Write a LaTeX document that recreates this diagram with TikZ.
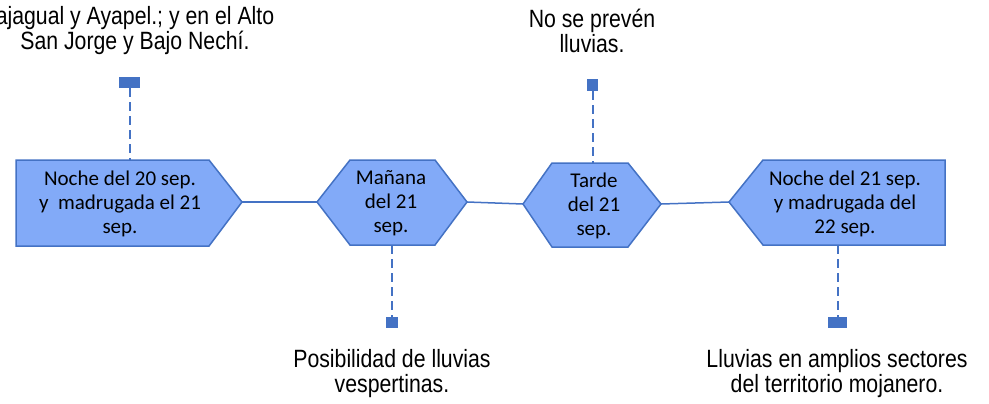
\documentclass[tikz,border=0pt]{standalone}
\usepackage{fontspec}
\setmainfont{Carlito}
\newfontfamily\notefont[FakeStretch=0.85]{Liberation Sans}
\definecolor{boxblue}{HTML}{82AAF8}
\definecolor{lineblue}{HTML}{4472C4}

\begin{document}
\begin{tikzpicture}[x=1pt, y=-1pt,
  stage/.style={draw=lineblue, fill=boxblue, line width=1.5pt, line join=miter},
  stagetext/.style={align=center, text=black, font=\fontsize{21}{24}\selectfont},
  note/.style={align=center, text=black, font=\notefont\fontsize{25}{25}\selectfont},
  marker/.style={fill=lineblue, inner sep=0pt},
  leader/.style={draw=lineblue, line width=2pt, dash pattern=on 9pt off 5pt},
  link/.style={draw=lineblue, line width=1.5pt}]
  \useasboundingbox (0,0) rectangle (989,404);

  % Stages of the forecast
  \draw[stage] (16,160) -- (209,160) -- (242,202) -- (209,246) -- (16,246) -- cycle;
  \coordinate (s1top) at (129.5,160);
  \coordinate (s1right) at (242,202);
  \node[stagetext] (s1) at (120,204) {Noche del 20 sep.\\ y\ \ madrugada el 21\\ sep.};

  \draw[stage] (317,202) -- (350,160) -- (435,160) -- (467,202) -- (435,245) -- (350,245) -- cycle;
  \coordinate (s2left) at (317,202);
  \coordinate (s2right) at (467,202);
  \coordinate (s2bot) at (392,245);
  \node[stagetext] (s2) at (391,203) {Mañana\\ del 21\\ sep.};

  \draw[stage] (523,204) -- (552,163) -- (628,163) -- (661,204) -- (628,247) -- (552,247) -- cycle;
  \coordinate (s3left) at (523,204);
  \coordinate (s3right) at (661,204);
  \coordinate (s3top) at (592.5,163);
  \node[stagetext] (s3) at (594,206) {Tarde\\ del 21\\ sep.};

  \draw[stage] (729,202) -- (763,160) -- (945,160) -- (945,245) -- (763,245) -- cycle;
  \coordinate (s4left) at (729,202);
  \coordinate (s4bot) at (837.5,245);
  \node[stagetext] (s4) at (845,204) {Noche del 21 sep.\\ y madrugada del\\ 22 sep.};

  % Timeline
  \draw[link] (s1right) -- (s2left);
  \draw[link] (s2right) -- (s3left);
  \draw[link] (s3right) -- (s4left);

  % Markers and leaders
  \node[marker, minimum width=21pt, minimum height=11pt] (m1) at (129.5,82.5) {};
  \node[marker, minimum width=11pt, minimum height=12pt] (m3) at (592.5,85) {};
  \node[marker, minimum width=12pt, minimum height=11pt] (m2) at (392,322.5) {};
  \node[marker, minimum width=19pt, minimum height=11pt] (m4) at (837.5,322.5) {};
  \draw[leader] (m1.south) -- (s1top);
  \draw[leader] (m3.south) -- (s3top);
  \draw[leader] (s2bot) -- (m2.north);
  \draw[leader] (s4bot) -- (m4.north);

  % Notes
  \node[note] (n1) at (135,31) {ajagual y Ayapel.; y en el Alto\\ San Jorge y Bajo Nechí.};
  \node[note] (n3) at (592,31) {No se prevén\\ lluvias.};
  \node[note] (n2) at (392,374) {Posibilidad de lluvias\\ vespertinas.};
  \node[note] (n4) at (837,374) {Lluvias en amplios sectores\\ del territorio mojanero.};
\end{tikzpicture}
\end{document}
